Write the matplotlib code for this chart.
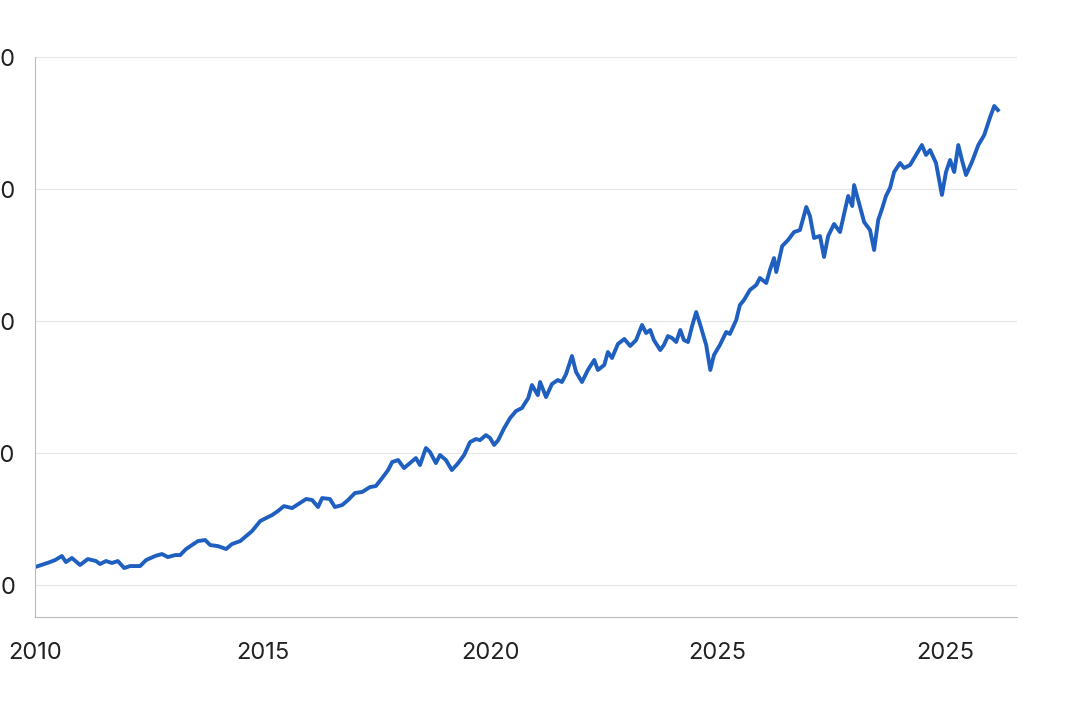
import matplotlib
matplotlib.use("Agg")
import matplotlib.pyplot as plt

years_since_2010 = [0.00,0.33,0.44,0.59,0.68,0.81,0.99,1.16,1.34,1.43,1.56,1.69,1.82,1.96,2.09,2.31,2.44,2.64,2.79,2.92,
3.08,3.19,3.32,3.45,3.58,3.74,3.85,4.02,4.20,4.33,4.51,4.64,4.77,4.95,5.08,5.21,5.34,5.47,5.65,5.82,
5.96,6.09,6.22,6.31,6.48,6.59,6.75,6.88,7.03,7.19,7.36,7.49,7.63,7.76,7.85,7.98,8.11,8.24,8.37,8.46,
8.59,8.68,8.81,8.90,9.03,9.16,9.30,9.43,9.56,9.69,9.78,9.91,10.00,10.09,10.18,10.31,10.44,10.57,10.70,10.84,
10.92,11.05,11.10,11.23,11.36,11.49,11.58,11.67,11.80,11.89,12.02,12.15,12.29,12.37,12.51,12.59,12.68,12.81,12.95,13.08,
13.21,13.34,13.43,13.52,13.60,13.74,13.82,13.91,14.00,14.09,14.18,14.26,14.35,14.44,14.53,14.62,14.75,14.84,14.92,15.05,
15.19,15.27,15.41,15.49,15.58,15.71,15.85,15.93,16.07,16.15,16.24,16.29,16.42,16.55,16.68,16.81,16.95,17.03,17.12,17.25,
17.34,17.43,17.56,17.69,17.74,17.87,17.96,18.00,18.09,18.22,18.35,18.44,18.53,18.62,18.70,18.79,18.88,19.01,19.10,19.23,
19.36,19.49,19.58,19.67,19.80,19.93,20.02,20.11,20.20,20.29,20.37,20.46,20.59,20.73,20.86,20.99,21.08,21.16]
values = [13.6,17.4,18.9,22,17.4,20.5,15.2,19.7,18.2,15.9,18.2,16.7,18.2,12.9,14.4,14.4,18.9,22,23.5,21.2,
22.7,22.7,27.3,30.3,33.3,34.1,30.3,29.5,27.3,31.1,33.3,37.1,40.9,48.5,50.8,53,56.1,59.8,58.3,62.1,
65.2,64.4,59.1,65.9,65.2,59.1,60.6,64.4,69.7,70.5,74.2,75,81.1,87.1,93.2,94.7,88.6,92.4,96.2,90.9,
103.8,100.8,92.4,98.5,94.7,87.1,92.4,98.5,108.3,110.6,109.8,113.6,111.4,106.1,109.8,118.9,126.5,131.8,134.1,141.7,
151.5,143.9,153.8,142.4,152.3,155.3,153.8,159.8,173.5,161.4,153.8,162.9,170.5,162.9,166.7,176.5,172,182.6,186.4,181.1,
185.6,197,190.9,193.2,185.6,178,181.8,188.6,187.1,184.1,193.2,185.6,184.1,196.2,206.8,197,181.8,162.9,174.2,181.8,
191.7,190.2,200.8,212.1,215.9,223.5,227.3,232.6,228.8,238.6,247.7,237.1,256.8,261.4,267.4,268.9,286.4,279.5,262.9,264.4,
248.5,264.4,273.5,267.4,275,294.7,287.1,303,291.7,275,268.9,253.8,276.5,285.6,294.7,300.8,312.9,319.7,315.9,318.2,
325.8,333.3,325.8,329.5,319.7,295.5,312.9,322,312.9,333.3,322,310.6,320.5,333.3,340.9,354.5,362.9,359.8]
x_ticks = [2010, 2015, 2020, 2025, 2030]
x_tick_labels = ["2010", "2015", "2020", "2025", "2025"]
y_ticks = [0, 100, 200, 300, 400]
y_tick_labels = ["0", "100", "200", "300", "400"]

plt.rcParams['font.family'] = ['Inter', 'DejaVu Sans']
fig = plt.figure(figsize=(10.75, 7.16), dpi=100)
ax = fig.add_axes([35/1075, 99/716, 982/1075, 560/716])
ax.plot([2010 + t for t in years_since_2010], values, color="#1f5fbf", lw=2.8, solid_joinstyle="round")
ax.set_xlim(2010, 2031.58)
ax.set_ylim(-24.2, 400)
ax.set_xticks(x_ticks)
ax.set_xticklabels(x_tick_labels)
ax.set_yticks(y_ticks)
ax.set_yticklabels(y_tick_labels)
ax.tick_params(axis="both", length=0, labelsize=17, colors="#222222")
ax.tick_params(axis="y", pad=14)
ax.tick_params(axis="x", pad=18)
ax.grid(axis="y", color="#e6e6e6", lw=0.8)
ax.set_axisbelow(True)
for s in ["top", "right"]:
    ax.spines[s].set_visible(False)
for s in ["left", "bottom"]:
    ax.spines[s].set_color("#bbbbbb")
fig.savefig("out.png", dpi=100)
